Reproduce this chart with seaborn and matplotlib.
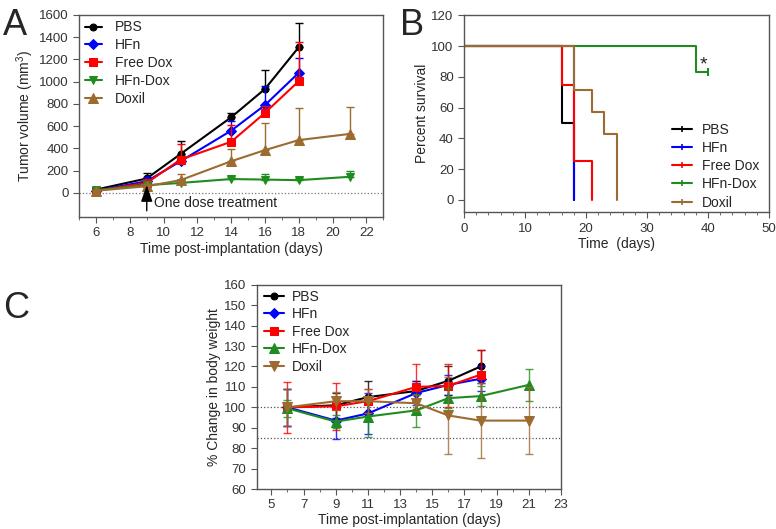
import numpy as np
import pandas as pd
import matplotlib
matplotlib.use("Agg")
import matplotlib.pyplot as plt
from matplotlib.ticker import MultipleLocator
from matplotlib.lines import Line2D
import seaborn as sns

# ---- data ----
groups = ['PBS', 'HFn', 'Free Dox', 'HFn-Dox', 'Doxil']
colors = ['#000000', '#0000ff', '#ff0000', '#1e8c1e', '#9c6b30']

# panel A: tumor volume (mean, upper error)
days_a = [6, 9, 11, 14, 16, 18, 21]
vol_pbs = [30, 130, 350, 680, 935, 1310]
vol_hfn = [20, 105, 285, 560, 790, 1080]
vol_free = [20, 90, 300, 460, 720, 1005]
vol_hfndox = [25, 70, 90, 125, 120, 115, 145]
vol_doxil = [20, 60, 115, 285, 385, 475, 530]
err_pbs = [10, 50, 120, 40, 170, 215]
err_hfn = [10, 40, 30, 90, 170, 130]
err_free = [10, 30, 140, 150, 60, 350]
err_hfndox = [10, 15, 20, 20, 50, 20, 55]
err_doxil = [10, 20, 55, 110, 245, 285, 245]

# panel B: Kaplan-Meier steps (time, percent survival)
km_pbs_t, km_pbs_s = [0, 16, 18], [100, 50, 0]
km_hfn_t, km_hfn_s = [0, 18, 18], [100, 0, 0]
km_free_t, km_free_s = [0, 16, 18, 21], [100, 75, 25, 0]
km_hfndox_t, km_hfndox_s = [0, 38, 40], [100, 83.3, 83.3]
km_doxil_t, km_doxil_s = [0, 18, 21, 23, 25], [100, 71.4, 57.1, 42.9, 0]

# panel C: body weight change (mean, sd)
days_c = [6, 9, 11, 14, 16, 18, 21]
bw_pbs = [100, 101, 105, 108, 113, 120]
bw_hfn = [100, 93.5, 97, 107, 111, 114]
bw_free = [100, 100.5, 103, 110, 110.5, 116]
bw_hfndox = [99.5, 93, 95.5, 98.5, 104.5, 105.5, 111]
bw_doxil = [100, 103, 103, 102, 96, 93.5, 93.5]
sd_pbs = [9, 6, 8, 5, 7, 8]
sd_hfn = [9, 9, 10, 6, 5, 6]
sd_free = [12.5, 11.5, 6, 11, 10.5, 12]
sd_hfndox = [4, 3, 10, 8, 5, 5, 8]
sd_doxil = [9, 4.5, 6, 4, 19, 18.5, 16.5]

sns.set_style("ticks")
plt.rcParams['font.family'] = ['Liberation Sans', 'DejaVu Sans']
plt.rcParams['mathtext.fontset'] = 'custom'
plt.rcParams['mathtext.rm'] = 'Liberation Sans'
frame_col = '#555555'


def style_axes(ax):
    for s in ax.spines.values():
        s.set_color(frame_col)
        s.set_linewidth(1.0)
    ax.tick_params(which='both', direction='out', color=frame_col, labelsize=9.5,
                   labelcolor='#333333')
    ax.tick_params(which='major', length=4)
    ax.tick_params(which='minor', length=2.5)


fig = plt.figure(figsize=(7.76, 5.29), dpi=100)
axA = fig.add_axes([0.102, 0.590, 0.392, 0.382])
axB = fig.add_axes([0.598, 0.599, 0.393, 0.372])
axC = fig.add_axes([0.331, 0.0756, 0.392, 0.386])

# ---- panel A ----
vols = [vol_pbs, vol_hfn, vol_free, vol_hfndox, vol_doxil]
errs = [err_pbs, err_hfn, err_free, err_hfndox, err_doxil]
markers_a = ['o', 'D', 's', 'v', '^']
msizes_a = [5, 5, 5.5, 6, 7]
axA.axhline(0, ls=':', color='#777777', lw=0.9, zorder=0)
for g, c, v, e, m, ms in zip(groups, colors, vols, errs, markers_a, msizes_a):
    d = days_a[:len(v)]
    df = pd.DataFrame({'day': d, 'vol': v})
    axA.errorbar(d, v, yerr=[np.zeros(len(e)), e], fmt='none', ecolor=c,
                 elinewidth=1.0, capsize=3, capthick=1.0)
    sns.lineplot(data=df, x='day', y='vol', ax=axA, color=c, marker=m,
                 markersize=ms, markeredgecolor=c, lw=1.5, label=g)
axA.annotate('', xy=(9, 70), xytext=(9, -160),
             arrowprops=dict(arrowstyle='-|>,head_length=1.0,head_width=0.35',
                             color='black', lw=1.0, shrinkA=0, shrinkB=0),
             zorder=8)
axA.text(9.4, -90, 'One dose treatment', fontsize=10, va='center', color='#222222')
axA.set_xlim(5, 23)
axA.set_ylim(-215, 1600)
axA.set_yticks(np.arange(0, 1601, 200))
axA.xaxis.set_major_locator(MultipleLocator(2))
axA.xaxis.set_minor_locator(MultipleLocator(1))
axA.set_xlabel('Time post-implantation (days)', fontsize=10, labelpad=2)
axA.set_ylabel('Tumor volume (mm$^3$)', fontsize=10, labelpad=2)
style_axes(axA)
axA.legend(loc='upper left', frameon=False, fontsize=10, handlelength=1.25,
           labelspacing=0.28, borderaxespad=0.0, handletextpad=0.9,
           bbox_to_anchor=(0.0, 1.0))

# ---- panel B ----
kms = [(km_pbs_t, km_pbs_s), (km_hfn_t, km_hfn_s), (km_free_t, km_free_s),
       (km_hfndox_t, km_hfndox_s), (km_doxil_t, km_doxil_s)]
for g, c, (t, s) in zip(groups, colors, kms):
    df = pd.DataFrame({'time': t, 'surv': s})
    sns.lineplot(data=df, x='time', y='surv', ax=axB, color=c, lw=1.5,
                 drawstyle='steps-post', estimator=None, sort=False)
axB.plot([km_hfndox_t[-1]], [km_hfndox_s[-1]], marker='|', color=colors[3],
         markersize=6, mew=1.5)
axB.text(39.2, 88, '*', fontsize=14, ha='center', va='center', color='#222222')
axB.set_xlim(0, 50)
axB.set_ylim(-8, 120)
axB.xaxis.set_major_locator(MultipleLocator(10))
axB.xaxis.set_minor_locator(MultipleLocator(2))
axB.yaxis.set_major_locator(MultipleLocator(20))
axB.set_xlabel('Time  (days)', fontsize=10, labelpad=2)
axB.set_ylabel('Percent survival', fontsize=10, labelpad=2)
style_axes(axB)
handles_b = [Line2D([], [], color=c, lw=1.5, marker='|', markersize=4, mew=1.2)
             for c in colors]
axB.legend(handles_b, groups, loc='lower right', frameon=False, fontsize=10,
           handlelength=1.4, labelspacing=0.3, borderaxespad=0.0,
           handletextpad=0.7, bbox_to_anchor=(0.985, -0.015))

# ---- panel C ----
bws = [bw_pbs, bw_hfn, bw_free, bw_hfndox, bw_doxil]
sds = [sd_pbs, sd_hfn, sd_free, sd_hfndox, sd_doxil]
markers_c = ['o', 'D', 's', '^', 'v']
msizes_c = [5, 5, 5.5, 7, 7]
axC.axhline(100, ls=':', color='#555555', lw=0.9, zorder=0)
axC.axhline(85, ls=':', color='#555555', lw=0.9, zorder=0)
for g, c, v, e, m, ms in zip(groups, colors, bws, sds, markers_c, msizes_c):
    d = days_c[:len(v)]
    df = pd.DataFrame({'day': d, 'bw': v})
    axC.errorbar(d, v, yerr=e, fmt='none', ecolor=c, elinewidth=1.0,
                 capsize=3, capthick=1.0, alpha=0.8)
    sns.lineplot(data=df, x='day', y='bw', ax=axC, color=c, marker=m,
                 markersize=ms, markeredgecolor=c, lw=1.5, label=g)
axC.set_xlim(4.1, 23)
axC.set_ylim(60, 160)
axC.set_xticks(np.arange(5, 24, 2))
axC.xaxis.set_minor_locator(MultipleLocator(1))
axC.yaxis.set_major_locator(MultipleLocator(10))
axC.set_xlabel('Time post-implantation (days)', fontsize=10, labelpad=1)
axC.set_ylabel('% Change in body weight', fontsize=10, labelpad=2)
style_axes(axC)
axC.legend(loc='upper left', frameon=False, fontsize=10, handlelength=1.45,
           labelspacing=0.25, borderaxespad=0.1, handletextpad=0.6,
           bbox_to_anchor=(0.0, 1.01))

# panel letters
fig.text(0.004, 0.985, 'A', fontsize=26, va='top')
fig.text(0.515, 0.985, 'B', fontsize=26, va='top')
fig.text(0.004, 0.45, 'C', fontsize=26, va='top')

fig.savefig('out.png', dpi=100)
